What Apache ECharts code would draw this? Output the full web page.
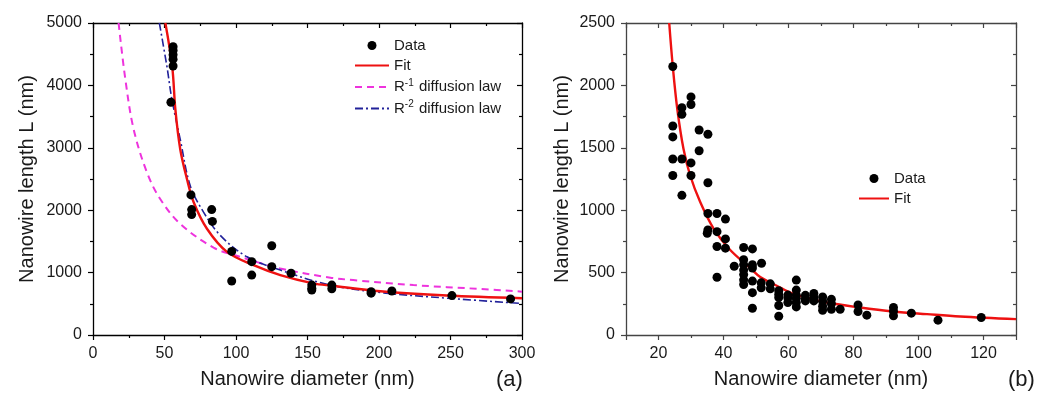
<!DOCTYPE html>
<html><head><meta charset="utf-8">
<script src="https://cdn.jsdelivr.net/npm/echarts@6/dist/echarts.min.js"></script>
<style>html,body{margin:0;padding:0;background:#fff}#c{width:1041px;height:394px}</style>
</head><body><div id="c"></div>
<script>
// ---- Panel (a) ----
const dataA = [[56,4620],[56,4560],[56,4490],[56,4420],[56,4310],[54.5,3730],[68.5,2245],[69,2010],[69,1930],[83,2010],[83.5,1820],[97,1340],[97,865],[111,1175],[111,960],[125,1430],[125,1095],[138.5,990],[153,800],[153,750],[153,720],[167,800],[167,740],[194.5,695],[194.5,670],[209,705],[251,632],[292,578]];
const fitA = [[50.6,5000],[55.4,4300],[57.6,3614],[61,2977],[65.7,2500],[70.4,2128],[79.7,1703],[93.7,1332],[112.3,1119],[131,960],[154,828],[167,790],[201,700],[247.5,632],[300,589]];
const r1A = [[17.9,5000],[22.6,4100],[28.4,3300],[37.8,2600],[47,2180],[61,1780],[84.3,1400],[98.3,1285],[131,1067],[166,919],[182,880],[224,800],[271,737],[300,695]];
const r2A = [[46.4,5000],[51.7,4303],[55.2,3773],[61,3136],[68,2393],[77.3,1969],[89,1597],[107.7,1253],[131,1040],[166,800],[201,680],[247.5,590],[300,505]];
// ---- Panel (b) ----
const dataB = [[24.4,2151],[24.4,1675],[24.4,1587],[24.4,1410],[24.4,1278],
[27.2,1821],[27.2,1768],[27.2,1410],[27.2,1119],
[30,1908],[30,1847],[30,1379],[30,1278],
[32.5,1643],[32.5,1476],
[35.2,1609],[35.2,1220],[35.2,974],[35.2,841],[35,815],
[38,974],[38,828],[38,709],[38,463],
[40.6,929],[40.6,770],[40.6,696],
[43.3,551],
[46.2,701],[46.2,603],[46.2,563],[46.2,520],[46.2,484],[46.2,442],[46.2,405],
[48.9,690],[48.9,563],[48.9,537],[48.9,432],[48.9,339],[48.9,214],
[51.7,575],[51.6,418],[51.6,378],
[54.4,410],[54.4,370],
[57,355],[57,325],[57,300],[57,236],[57,150],
[59.8,320],[59.8,299],[59.8,260],
[62.4,440],[62.4,360],[62.4,320],[62.4,294],[62.4,260],[62.4,225],
[65.2,318],[65.2,290],[65.2,273],
[67.8,333],[67.8,300],[67.8,273],
[70.5,305],[70.5,270],[70.5,230],[70.5,198],
[73.2,286],[73.2,250],[73.2,206],
[75.9,206],
[81.4,241],[81.4,188],
[84.1,159],
[92.3,220],[92.3,190],[92.3,154],
[97.8,175],
[106,119],
[119.3,140]];
const fitB = [[23.3,2500],[24.4,2151],[25.8,1807],[27.7,1490],[29.75,1278],[32.8,1067],[36.9,855],[42,683],[48.2,537],[51.3,465],[56.4,395],[61.5,330],[65.7,299],[71.8,260],[82,220],[92.3,188],[102.6,167],[112.8,148],[130,127]];
const xLabelA = 'Nanowire diameter (nm)';
const yLabelA = 'Nanowire length L (nm)';
const legendNamesA = ['Data','Fit','R-1 diffusion law','R-2 diffusion law'];
const legendNamesB = ['Data ','Fit '];

const FONT = 'Liberation Sans, Arial, sans-serif';
const TXT = '#1a1a1a';
const plain = v => String(v);

function xAx(grid, pos, min, max, interval, color, showLabel, splitNumber) {
  const a = {
    type: 'value', gridIndex: grid, position: pos, min: min, max: max,
    axisLine: {show: true, onZero: false, lineStyle: {color: color, width: 1.3}},
    axisTick: {show: true, inside: pos === 'top', length: 5, lineStyle: {color: color, width: 1.2}},
    minorTick: {show: true, splitNumber: 2, length: 3, lineStyle: {color: color, width: 1.2}},
    splitLine: {show: false},
    axisLabel: {show: showLabel, color: TXT, fontSize: 16, fontFamily: FONT, margin: 11, formatter: plain},
  };
  if (interval) a.interval = interval; else a.splitNumber = splitNumber;
  if (showLabel) {
    a.name = xLabelA; a.nameLocation = 'middle'; a.nameGap = 34;
    a.nameTextStyle = {color: TXT, fontSize: 20, fontFamily: FONT};
    a.axisLabel.showMinLabel = interval ? true : false;
    a.axisLabel.showMaxLabel = interval ? true : false;
  }
  return a;
}
function yAx(grid, pos, min, max, interval, color, showLabel, gap) {
  const a = {
    type: 'value', gridIndex: grid, position: pos, min: min, max: max, interval: interval,
    axisLine: {show: true, onZero: false, lineStyle: {color: color, width: 1.3}},
    axisTick: {show: true, inside: pos === 'right', length: 5, lineStyle: {color: color, width: 1.2}},
    minorTick: {show: true, splitNumber: 2, length: 3, lineStyle: {color: color, width: 1.2}},
    splitLine: {show: false},
    axisLabel: {show: showLabel, color: TXT, fontSize: 16, fontFamily: FONT, margin: 11, formatter: plain},
  };
  if (showLabel) {
    a.name = yLabelA; a.nameLocation = 'middle'; a.nameGap = gap; a.nameRotate = 90;
    a.nameTextStyle = {color: TXT, fontSize: 20, fontFamily: FONT};
  }
  return a;
}

const richSup = {sup: {fontSize: 10, fontFamily: FONT, color: TXT, verticalAlign: 'bottom', padding: [0, 1, 8, 0]}};
function legFmt(n) {
  if (n === 'R-1 diffusion law') return 'R{sup|-1} diffusion law';
  if (n === 'R-2 diffusion law') return 'R{sup|-2} diffusion law';
  return n.trim();
}
const noDot = {color: 'rgba(0,0,0,0)', borderWidth: 0, opacity: 0};
function legItems(names) {
  return names.map(n => n.trim() === 'Data' ? {name: n} : {name: n, itemStyle: noDot});
}

const option = {
  animation: false,
  backgroundColor: '#fff',
  grid: [
    {left: 93, top: 23, width: 429, height: 314},
    {left: 626, top: 23, width: 390, height: 315}
  ],
  xAxis: [
    xAx(0, 'bottom', 0, 300, 50, '#000', true),
    xAx(0, 'top', 0, 300, 50, '#000', false),
    xAx(1, 'bottom', 10, 130, null, '#444', true, 6),
    xAx(1, 'top', 10, 130, null, '#444', false, 6)
  ],
  yAxis: [
    yAx(0, 'left', 0, 5000, 1000, '#000', true, 56),
    yAx(0, 'right', 0, 5000, 1000, '#000', false),
    yAx(1, 'left', 0, 2500, 500, '#444', true, 54),
    yAx(1, 'right', 0, 2500, 500, '#444', false)
  ],
  legend: [
    {data: legItems(legendNamesA), orient: 'vertical', left: 354, top: 38, padding: 0, itemWidth: 34, itemHeight: 9, itemGap: 5,
     formatter: legFmt, textStyle: {color: TXT, fontSize: 15, fontFamily: FONT, rich: richSup}},
    {data: legItems(legendNamesB), orient: 'vertical', left: 858, top: 171, padding: 0, itemWidth: 30, itemHeight: 9, itemGap: 5,
     formatter: legFmt, textStyle: {color: TXT, fontSize: 15, fontFamily: FONT}}
  ],
  graphic: [
    {type: 'text', left: 496, top: 369, style: {text: '(a)', fontSize: 22, fontFamily: FONT, fill: TXT}},
    {type: 'text', left: 1008, top: 369, style: {text: '(b)', fontSize: 22, fontFamily: FONT, fill: TXT}}
  ],
  series: [
    {name: 'R-1 diffusion law', type: 'line', xAxisIndex: 0, yAxisIndex: 0, data: r1A, smooth: 0.35, showSymbol: false, symbol: 'none',
     lineStyle: {color: '#ee33dd', width: 2, type: [7, 5]}, itemStyle: {color: '#ee33dd'}, z: 2},
    {name: 'R-2 diffusion law', type: 'line', xAxisIndex: 0, yAxisIndex: 0, data: r2A, smooth: 0.35, showSymbol: false, symbol: 'none',
     lineStyle: {color: '#22229a', width: 1.6, type: [8, 3, 2, 3]}, itemStyle: {color: '#22229a'}, z: 3},
    {name: 'Fit', type: 'line', xAxisIndex: 0, yAxisIndex: 0, data: fitA, smooth: 0.35, showSymbol: false, symbol: 'none',
     lineStyle: {color: '#ee1111', width: 2.4}, itemStyle: {color: '#ee1111'}, z: 4},
    {name: 'Data', type: 'scatter', xAxisIndex: 0, yAxisIndex: 0, data: dataA, symbol: 'circle', symbolSize: 9,
     itemStyle: {color: '#000', opacity: 1}, z: 5},
    {name: 'Fit ', type: 'line', xAxisIndex: 2, yAxisIndex: 2, data: fitB, smooth: 0.35, showSymbol: false, symbol: 'none',
     lineStyle: {color: '#ee1111', width: 2.4}, itemStyle: {color: '#ee1111'}, z: 4},
    {name: 'Data ', type: 'scatter', xAxisIndex: 2, yAxisIndex: 2, data: dataB, symbol: 'circle', symbolSize: 9,
     itemStyle: {color: '#000', opacity: 1}, z: 5}
  ]
};
const chart = echarts.init(document.getElementById('c'), null, {renderer: 'canvas'});
chart.setOption(option);
</script></body></html>
